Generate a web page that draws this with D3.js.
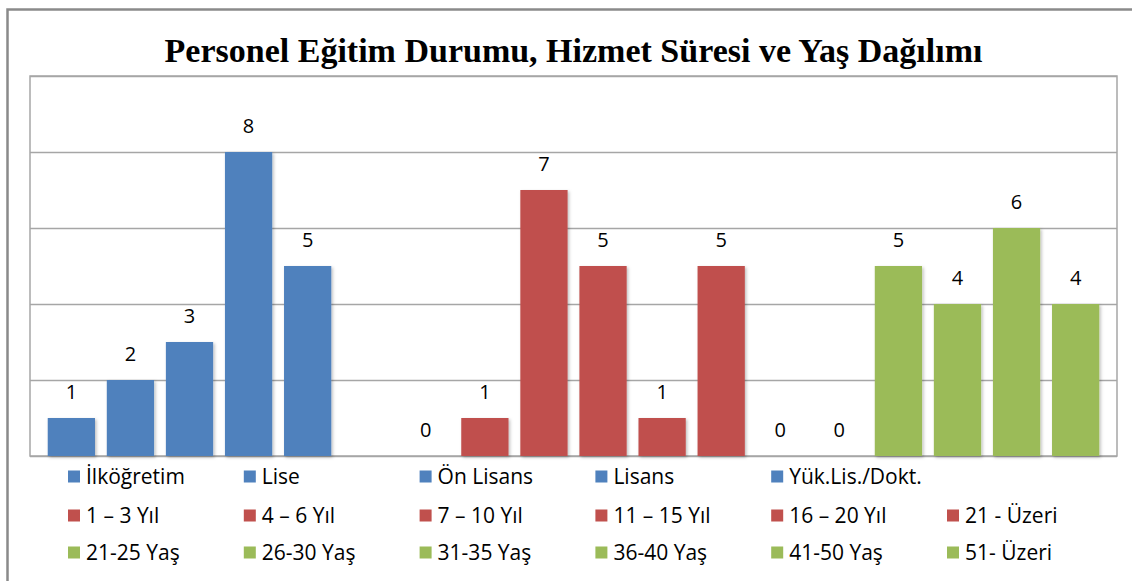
<!DOCTYPE html>
<html lang="tr">
<head>
<meta charset="UTF-8">
<title>Personel Eğitim Durumu</title>
<style>
  html, body { margin: 0; padding: 0; background: #fff; }
  svg { display: block; }
</style>
</head>
<body>
<svg width="1132" height="581"></svg>
<script src="https://cdn.jsdelivr.net/npm/d3@7"></script>
<script>
  // veri
  const egitimLabels = ['İlköğretim', 'Lise', 'Ön Lisans', 'Lisans', 'Yük.Lis./Dokt.'];
  const egitimValues = [1, 2, 3, 8, 5];
  const hizmetLabels = ['1 – 3 Yıl', '4 – 6 Yıl', '7 – 10 Yıl', '11 – 15 Yıl', '16 – 20 Yıl', '21 - Üzeri'];
  const hizmetValues = [0, 1, 7, 5, 1, 5];
  const yasLabels = ['21-25 Yaş', '26-30 Yaş', '31-35 Yaş', '36-40 Yaş', '41-50 Yaş', '51- Üzeri'];
  const yasValues = [0, 0, 5, 4, 6, 4];
  const yTicks = [0, 2, 4, 6, 8, 10];

  const colors = { egitim: '#4F81BD', hizmet: '#C0504D', yas: '#9BBB59' };

  // one slot per series, with an empty slot after the education group
  const bars = [];
  egitimLabels.forEach((l, i) => bars.push({ key: 'e' + i, name: l, value: egitimValues[i], group: 'egitim' }));
  bars.push({ key: 'blank', name: '', value: null, group: 'egitim' });
  hizmetLabels.forEach((l, i) => bars.push({ key: 'h' + i, name: l, value: hizmetValues[i], group: 'hizmet' }));
  yasLabels.forEach((l, i) => bars.push({ key: 'y' + i, name: l, value: yasValues[i], group: 'yas' }));

  const svg = d3.select('svg');
  const plot = { left: 30, right: 1117, top: 76, bottom: 456 };

  const defs = svg.append('defs');
  defs.append('filter').attr('id', 'shadow')
    .attr('x', '-20%').attr('y', '-20%').attr('width', '140%').attr('height', '140%')
    .append('feDropShadow')
    .attr('dx', 1.5).attr('dy', 1.5).attr('stdDeviation', 1.5)
    .attr('flood-color', '#000').attr('flood-opacity', 0.25);

  // dis cerceve
  svg.append('rect')
    .attr('x', 7.5).attr('y', 9.5)
    .attr('width', 1140).attr('height', 600)
    .attr('fill', 'none').attr('stroke', '#8a8a8a').attr('stroke-width', 2.5);

  // baslik
  svg.append('text')
    .attr('x', (plot.left + plot.right) / 2).attr('y', 62)
    .attr('text-anchor', 'middle')
    .style('font-family', '"Liberation Serif", "Times New Roman", serif')
    .style('font-weight', 'bold').style('font-size', '34px')
    .text('Personel Eğitim Durumu, Hizmet Süresi ve Yaş Dağılımı');

  const x = d3.scaleBand()
    .domain(bars.map(d => d.key))
    .range([plot.left, plot.right])
    .paddingInner(0.2)
    .paddingOuter(0.3);

  const y = d3.scaleLinear()
    .domain([0, 10])
    .range([plot.bottom, plot.top]);

  // grid
  svg.append('g')
    .attr('transform', 'translate(' + plot.left + ',0)')
    .call(d3.axisLeft(y).tickValues(yTicks).tickSize(-(plot.right - plot.left)).tickFormat(''))
    .call(g => g.select('.domain').remove())
    .call(g => g.selectAll('line').attr('stroke', '#a6a6a6').attr('stroke-width', 1.5));

  svg.append('rect')
    .attr('x', plot.left).attr('y', plot.top)
    .attr('width', plot.right - plot.left).attr('height', plot.bottom - plot.top)
    .attr('fill', 'none').attr('stroke', '#a6a6a6').attr('stroke-width', 1.5);

  const real = bars.filter(d => d.value !== null);

  svg.append('g').selectAll('rect').data(real).enter().append('rect')
    .attr('x', d => x(d.key))
    .attr('y', d => y(d.value))
    .attr('width', x.bandwidth())
    .attr('height', d => y(0) - y(d.value))
    .attr('fill', d => colors[d.group])
    .attr('filter', 'url(#shadow)');

  const font = '"Open Sans", "Noto Sans", sans-serif';

  svg.append('g').selectAll('text').data(real).enter().append('text')
    .attr('x', d => x(d.key) + x.bandwidth() / 2)
    .attr('y', d => y(d.value) - 19)
    .attr('text-anchor', 'middle')
    .style('font-family', font).style('font-size', '20px').attr('fill', '#000')
    .text(d => d.value);

  // legend
  const rows = [
    { labels: egitimLabels, color: colors.egitim, y: 477 },
    { labels: hizmetLabels, color: colors.hizmet, y: 516 },
    { labels: yasLabels, color: colors.yas, y: 553 }
  ];
  const colX = d3.scaleLinear().domain([0, 1]).range([68, 243.8]);

  rows.forEach(r => {
    const g = svg.append('g');
    const items = g.selectAll('g').data(r.labels).enter().append('g')
      .attr('transform', (d, i) => 'translate(' + colX(i) + ',' + r.y + ')');
    items.append('rect')
      .attr('x', 0).attr('y', -6.5).attr('width', 12).attr('height', 12)
      .attr('fill', r.color);
    items.append('text')
      .attr('x', 18).attr('y', 0).attr('dy', '0.35em')
      .style('font-family', font).style('font-size', '21px').attr('fill', '#000')
      .text(d => d);
  });
</script>
</body>
</html>
